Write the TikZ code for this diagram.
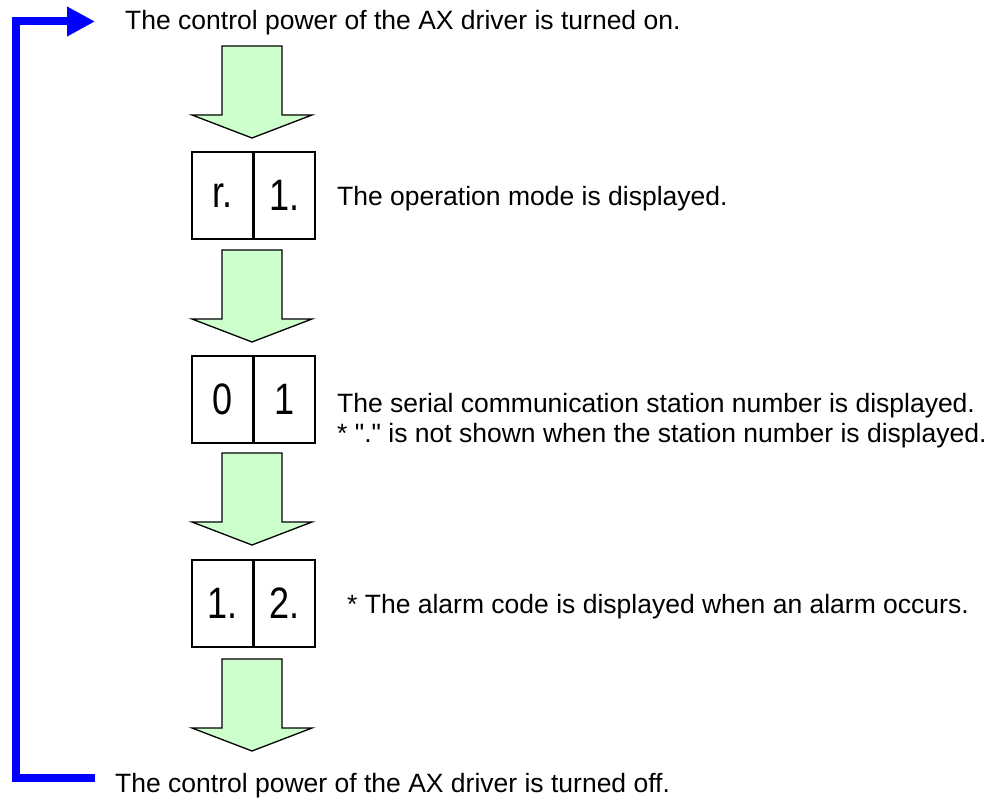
\documentclass[tikz,border=0pt]{standalone}
\usepackage{fontspec}
\setmainfont{Liberation Sans}[Ligatures=TeXOff]
\usepackage{tikz}
\usetikzlibrary{arrows.meta,positioning,calc}

\definecolor{loopblue}{RGB}{0,0,255}
\definecolor{arrowgreen}{RGB}{204,255,204}
% narrow seven-segment-like digits
\newcommand\segtext[1]{\scalebox{0.82}[1]{#1}}

\begin{document}
\begin{tikzpicture}[
  x=1pt, y=-1pt,
  txt/.style={font=\fontsize{26.5}{30.5}\selectfont, inner sep=0pt, align=left},
  cell/.style={draw, line width=2.4pt, minimum width=61.5pt, minimum height=87pt,
               inner sep=0pt, outer sep=0pt, font=\fontsize{44}{44}\selectfont},
  loopline/.style={draw=loopblue, line width=8pt, -{Triangle[length=28pt,width=28pt]}},
  pics/flowarrow/.style={code={
    \draw[fill=arrowgreen, line width=1.3pt, line join=miter]
      (-30,0) -- (30,0) -- (30,69) -- (60,69) -- (0,92) -- (-60,69) -- (-30,69) -- cycle;}}]

  \useasboundingbox (0,0) rectangle (997,800);

  \node[txt, anchor=base west] (on) at (125,30) {The control power of the AX driver is turned on.};

  % the two-digit display, one cell per digit
  \node[cell]                       (mode1)  at (222.75,195.5) {\segtext{r.}};
  \node[cell, right=0pt of mode1]   (mode2)  {\segtext{1.}};
  \node[cell, below=117pt of mode1] (stat1)  {\segtext{0}};
  \node[cell, right=0pt of stat1]   (stat2)  {\segtext{1}};
  \node[cell, below=117pt of stat1] (alarm1) {\segtext{1.}};
  \node[cell, right=0pt of alarm1]  (alarm2) {\segtext{2.}};

  \node[txt, right=22pt of mode2, yshift=-3pt]   (modelbl)  {The operation mode is displayed.};
  \node[txt, right=22pt of stat2, yshift=-21pt]  (statlbl)  {The serial communication station number is displayed.\\{}* "." is not shown when the station number is displayed.};
  \node[txt, right=32pt of alarm2, yshift=-3pt]  (alarmlbl) {* The alarm code is displayed when an alarm occurs.};

  \node[txt, anchor=base west] (off) at (115,792) {The control power of the AX driver is turned off.};

  % block arrows between the steps
  \pic at ($(on.base -| mode1.east)+(-1.5,16)$) {flowarrow};
  \pic at ($(mode1.south east)+(-1.5,11)$)      {flowarrow};
  \pic at ($(stat1.south east)+(-1.5,10)$)      {flowarrow};
  \pic at ($(alarm1.south east)+(-1.5,12)$)     {flowarrow};

  % power cycle loop on the left
  \coordinate (loopbot) at ($(off.base west)+(-20,-14.5)$);
  \coordinate (looptop) at ($(on.base west)+(-30,-8.5)$);
  \coordinate (loopx)   at (15.5,400);
  \draw[loopline] (loopbot) -- (loopbot -| loopx) -- (looptop -| loopx) -- (looptop);
\end{tikzpicture}
\end{document}
